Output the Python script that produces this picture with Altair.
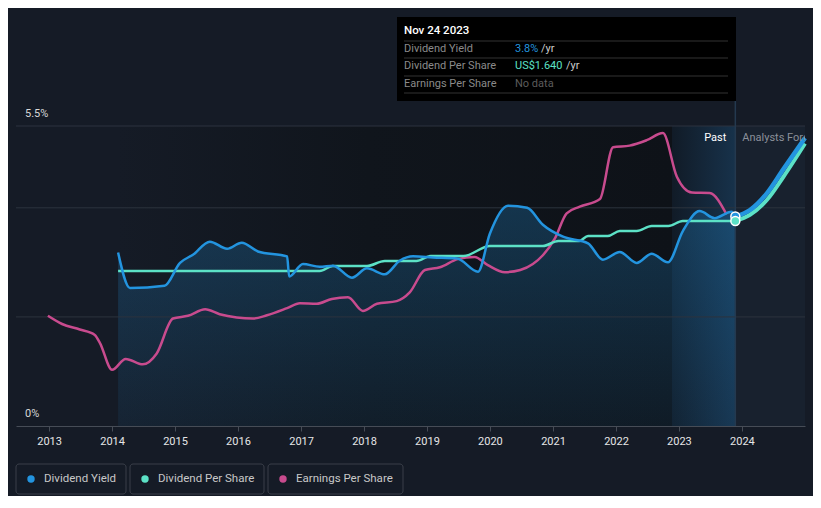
import altair as alt
import pandas as pd

# ---------------- data ----------------
yield_dates = ["2014-02-05", "2014-04-15", "2014-11-01", "2015-01-30", "2015-04-15", "2015-07-22",
               "2015-10-30", "2016-01-23", "2016-04-26", "2016-10-12", "2016-10-24", "2017-01-12",
               "2017-04-19", "2017-07-05", "2017-10-23", "2018-01-18", "2018-05-01", "2018-07-27",
               "2018-10-12", "2019-02-05", "2019-06-25", "2019-10-24", "2020-01-01", "2020-04-15",
               "2020-08-04", "2020-11-03", "2021-02-28", "2021-07-23", "2021-10-17", "2022-01-23",
               "2022-05-01", "2022-07-27", "2022-10-29", "2023-01-23", "2023-05-01", "2023-07-27",
               "2023-11-02", "2023-11-24"]
yield_vals = [3.18, 2.53, 2.57, 2.99, 3.14, 3.38, 3.25, 3.36, 3.20, 3.11, 2.74, 2.97,
              2.92, 2.94, 2.72, 2.89, 2.78, 3.03, 3.11, 3.09, 3.07, 2.83, 3.53, 4.04,
              4.00, 3.69, 3.47, 3.35, 3.05, 3.19, 2.99, 3.16, 3.00, 3.57, 3.94, 3.81,
              3.93, 3.84]

dps_dates = ["2014-02-05", "2017-04-19", "2017-07-05", "2018-01-18", "2018-05-01", "2018-11-01",
             "2019-01-23", "2019-08-01", "2020-01-01", "2020-11-03", "2021-02-01", "2021-06-01",
             "2021-07-23", "2021-11-15", "2022-01-23", "2022-05-01", "2022-07-27", "2022-11-01",
             "2023-01-23", "2023-11-24"]
dps_vals = [1.24, 1.24, 1.28, 1.28, 1.32, 1.32, 1.36, 1.36, 1.44, 1.44, 1.48, 1.48,
            1.52, 1.52, 1.56, 1.56, 1.60, 1.60, 1.64, 1.64]

fc_dates = ["2023-11-24", "2024-02-17", "2024-05-26", "2024-08-27", "2025-01-01"]
fc_yield = [3.84, 3.96, 4.27, 4.70, 5.28]
fc_dps = [1.64, 1.69, 1.81, 1.99, 2.26]

eps_dates = ["2012-12-25", "2013-03-17", "2013-06-28", "2013-09-23", "2013-10-23", "2014-01-01",
             "2014-03-21", "2014-06-28", "2014-09-17", "2014-12-20", "2015-03-17", "2015-06-25",
             "2015-09-17", "2015-12-25", "2016-03-28", "2016-06-17", "2016-10-12", "2016-12-25",
             "2017-04-01", "2017-06-28", "2017-09-30", "2017-12-25", "2018-03-17", "2018-07-09",
             "2018-09-23", "2018-12-20", "2019-03-17", "2019-06-28", "2019-10-04", "2019-12-20",
             "2020-03-28", "2020-06-25", "2020-09-06", "2020-11-03", "2021-01-12", "2021-03-21",
             "2021-06-05", "2021-09-30", "2021-12-15", "2022-03-21", "2022-06-28", "2022-09-30",
             "2022-12-20", "2023-03-17", "2023-06-28", "2023-10-04"]
eps_vals = [2.02, 1.87, 1.77, 1.67, 1.52, 1.03, 1.23, 1.13, 1.33, 1.97, 2.02, 2.14,
            2.05, 1.99, 1.97, 2.03, 2.16, 2.25, 2.24, 2.33, 2.36, 2.11, 2.24, 2.29,
            2.45, 2.86, 2.91, 3.06, 3.10, 2.95, 2.82, 2.86, 2.97, 3.13, 3.44, 3.90,
            4.02, 4.16, 5.11, 5.14, 5.24, 5.37, 4.57, 4.28, 4.27, 3.88]

year_ticks = list(range(2013, 2025))
grid_levels = [2, 4, 5.5]
x_domain = ["2012-06-23", "2025-01-01"]
past_start, band_start, today, fc_end = "2014-02-05", "2022-11-22", "2023-11-24", "2025-01-01"

# ---------------- styles ----------------
BG = "#151b26"
BLUE = "#2394df"
TEAL = "#5ce1c6"
PINK = "#c84b8e"
FONT = "Roboto"
W, H = 789, 300

yield_df = pd.DataFrame({"date": yield_dates, "v": yield_vals})
dps_df = pd.DataFrame({"date": dps_dates, "v": dps_vals})
fc_df = pd.DataFrame({"date": fc_dates, "y": fc_yield, "d": fc_dps})
eps_df = pd.DataFrame({"date": eps_dates, "v": eps_vals})

xaxis = alt.Axis(title=None, values=[alt.DateTime(year=y, month=1, date=1) for y in year_ticks],
                 format="%Y", grid=False, labelColor="#e6e6e6", labelFont=FONT, labelFontSize=11,
                 tickColor="#464c56", tickSize=5, domainColor="#464c56", labelPadding=4,
                 labelFlush=False)


def X(field="date"):
    return alt.X(f"{field}:T", scale=alt.Scale(domain=x_domain), axis=xaxis)


def Y(field, dom=(0, 5.5)):
    return alt.Y(f"{field}:Q", scale=alt.Scale(domain=list(dom)), axis=None)


def hgrad(stops):
    return alt.Gradient(gradient="linear", x1=0, x2=1, y1=0, y2=0,
                        stops=[alt.GradientStop(color=c, offset=o) for o, c in stops])


def span(a, b):
    return pd.DataFrame({"s": [a], "e": [b]})


past_bg = alt.Chart(span(past_start, band_start)).mark_rect(
    color=hgrad([(0, BG), (0.45, "#10151c"), (1, "#0e1218")])
).encode(x=X("s"), x2="e:T", y=alt.value(0), y2=alt.value(H))

band_bg = alt.Chart(span(band_start, today)).mark_rect(
    color=hgrad([(0, "#111b27"), (1, "#17324b")])
).encode(x=X("s"), x2="e:T", y=alt.value(0), y2=alt.value(H))

fc_bg = alt.Chart(span(today, fc_end)).mark_rect(color="#18212e").encode(
    x=X("s"), x2="e:T", y=alt.value(0), y2=alt.value(H))

area = alt.Chart(yield_df).mark_area(
    interpolate="monotone",
    color=alt.Gradient(gradient="linear", x1=0, x2=0, y1=0, y2=1,
                       stops=[alt.GradientStop(color="rgba(35,148,223,0.26)", offset=0),
                              alt.GradientStop(color="rgba(35,148,223,0.07)", offset=1)])
).encode(x=X(), y=Y("v"))

grid = alt.Chart(pd.DataFrame({"g": grid_levels})).mark_rule(color="#2c333e", strokeWidth=1).encode(
    y=Y("g"), x=alt.value(0), x2=alt.value(W))

vline = alt.Chart(span(today, today)).mark_rule(color="#24394f", strokeWidth=1.5).encode(
    x=X("s"), y=alt.value(-25), y2=alt.value(H))

yield_line = alt.Chart(yield_df).mark_line(interpolate="monotone", color=BLUE, strokeWidth=2.5).encode(
    x=X(), y=Y("v"))
dps_line = alt.Chart(dps_df).mark_line(interpolate="monotone", color=TEAL, strokeWidth=2.5).encode(
    x=X(), y=Y("v", (0, 2.4)))
eps_line = alt.Chart(eps_df).mark_line(interpolate="monotone", color=PINK, strokeWidth=2.5).encode(
    x=X(), y=Y("v"))
fc_yield_line = alt.Chart(fc_df).mark_line(interpolate="monotone", color=BLUE, strokeWidth=4.5).encode(
    x=X(), y=Y("y"))
fc_dps_line = alt.Chart(fc_df).mark_line(interpolate="monotone", color=TEAL, strokeWidth=4).encode(
    x=X(), y=Y("d", (0, 2.4)))

pt_df = fc_df.iloc[:1]
yield_pt = alt.Chart(pt_df).mark_point(filled=True, size=80, color=BLUE, stroke="white",
                                       strokeWidth=1.5, opacity=1).encode(x=X(), y=Y("y"))
dps_pt = alt.Chart(pt_df).mark_point(filled=True, size=80, color=TEAL, stroke="white",
                                     strokeWidth=1.5, opacity=1).encode(x=X(), y=Y("d", (0, 2.4)))

ylab = alt.Chart(pd.DataFrame({"v": [0, 5.5], "t": ["0%", "5.5%"]})).mark_text(
    align="left", baseline="middle", dy=-12, color="#d8d8d8", font=FONT, fontSize=11
).encode(x=alt.value(9), y=Y("v"), text="t:N")

past_txt = alt.Chart(span(today, today)).mark_text(
    text="Past", align="right", baseline="middle", dx=-9, color="#ffffff", font=FONT, fontSize=11
).encode(x=X("s"), y=alt.value(12))
fc_txt = alt.Chart(span(today, today)).mark_text(
    text="Analysts Forecasts", align="left", baseline="middle", dx=7, color="#8b9099",
    font=FONT, fontSize=11, clip=True
).encode(x=X("s"), y=alt.value(12))


def txt(s, x, y, color, size=11, weight="normal", align="left"):
    return alt.Chart(pd.DataFrame({"t": [s]})).mark_text(
        align=align, baseline="middle", color=color, font=FONT, fontSize=size, fontWeight=weight
    ).encode(x=alt.value(x), y=alt.value(y), text="t:N")


def box(x1, x2, y1, y2, **kw):
    return alt.Chart(pd.DataFrame({"t": [0]})).mark_rect(**kw).encode(
        x=alt.value(x1), x2=alt.value(x2), y=alt.value(y1), y2=alt.value(y2))


def hline(x1, x2, y, color):
    return alt.Chart(pd.DataFrame({"t": [0]})).mark_rule(color=color, strokeWidth=1).encode(
        x=alt.value(x1), x2=alt.value(x2), y=alt.value(y))


tip = [
    box(381, 720, -109, -25, color="#000000"),
    txt("Nov 24 2023", 388, -95, "#ffffff", 11.5, 500),
    hline(388, 712, -85, "#333333"),
    txt("Dividend Yield", 388, -77, "#8a8a8a"),
    txt("3.8%", 499, -77, BLUE),
    txt("/yr", 525, -77, "#cccccc"),
    hline(388, 712, -68, "#333333"),
    txt("Dividend Per Share", 388, -60, "#8a8a8a"),
    txt("US$1.640", 499, -60, TEAL),
    txt("/yr", 550, -60, "#cccccc"),
    hline(388, 712, -50, "#333333"),
    txt("Earnings Per Share", 388, -42, "#8a8a8a"),
    txt("No data", 499, -42, "#5c5c5c"),
    hline(388, 712, -33, "#333333"),
]


def legend_item(x1, x2, label, color):
    b = box(x1, x2, 338, 368, fillOpacity=0, stroke="#3a3f49", strokeWidth=1, cornerRadius=3)
    d = alt.Chart(pd.DataFrame({"t": [0]})).mark_point(
        filled=True, shape="circle", size=55, color=color, opacity=1
    ).encode(x=alt.value(x1 + 15), y=alt.value(353))
    t = txt(label, x1 + 28, 353, "#c8c8c8", 11.5)
    return [b, d, t]


legend = (legend_item(0, 110, "Dividend Yield", BLUE)
          + legend_item(114, 248, "Dividend Per Share", TEAL)
          + legend_item(252, 387, "Earnings Per Share", PINK))

chart = alt.layer(
    past_bg, band_bg, fc_bg, area, grid, vline,
    eps_line, dps_line, yield_line, fc_dps_line, fc_yield_line, yield_pt, dps_pt,
    ylab, past_txt, fc_txt, *tip, *legend
).resolve_scale(y="independent").properties(
    width=W, height=H,
    background=BG,
    autosize=alt.AutoSizeParams(type="none"),
    padding={"left": 8, "top": 118, "right": 8, "bottom": 70},
).configure_view(stroke=None)

chart.save("out.html", embed_options={"renderer": "svg", "actions": False})
